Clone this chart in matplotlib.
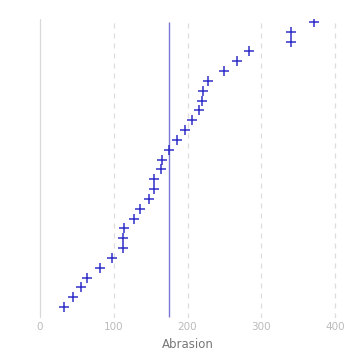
import numpy as np
import matplotlib
matplotlib.use("Agg")
import matplotlib.pyplot as plt

# Abrasion loss values (sorted), one per row of the dot plot
abrasion = [32, 45, 55, 64, 82, 97, 112, 113, 114, 128,
            136, 148, 154, 155, 164, 166, 175, 186, 196, 206,
            215, 219, 221, 228, 249, 267, 283, 340, 341, 372]
x_ticks = [0, 100, 200, 300, 400]

W, H = 359, 357
fig = plt.figure(figsize=(W / 100, H / 100), dpi=100)
ax = fig.add_axes([30 / W, (H - 318) / H, 315 / W, 299 / H])

rank = np.arange(1, len(abrasion) + 1)
mean_val = np.mean(abrasion)

# grid lines: solid at zero, dashed elsewhere
for t in x_ticks:
    if t == 0:
        ax.axvline(t, color="#d9d9d9", lw=0.9, zorder=0)
    else:
        ax.axvline(t, color="#dddddd", lw=0.9, ls=(0, (4, 4)), zorder=0)

ax.vlines(mean_val, 0, len(abrasion), color="#7878d2", lw=1.0, zorder=1)
ax.plot(abrasion, rank, ls="none", marker="+", ms=7, mew=1.1,
        color="#3030c8", zorder=2)

ax.set_xlim(-13.6, 413.6)
ax.set_ylim(-0.12, 30.3)
ax.set_xticks(x_ticks)
ax.set_yticks([])
ax.tick_params(axis="x", length=0, labelsize=7.5, labelcolor="#bbbbbb", pad=3)
for s in ax.spines.values():
    s.set_visible(False)
ax.set_xlabel("Abrasion", fontsize=8.5, color="#777777", labelpad=4)

fig.savefig("out.png", dpi=100)
